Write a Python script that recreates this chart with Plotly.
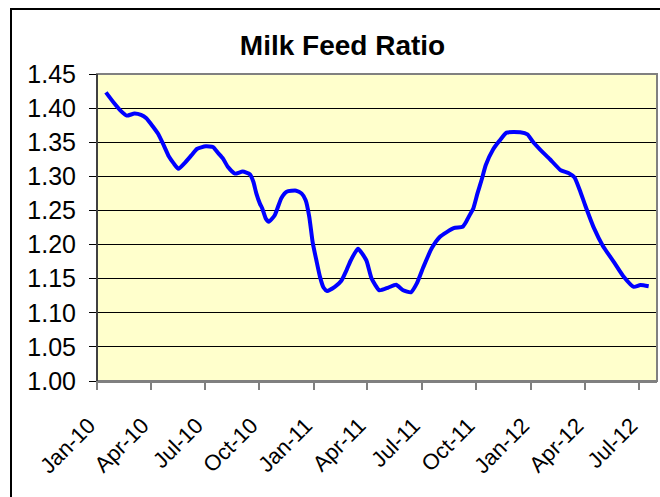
import plotly.graph_objects as go

dates = ["2010-01-16","2010-01-30","2010-02-10","2010-02-20","2010-03-05","2010-03-16","2010-03-25",
         "2010-04-05","2010-04-14","2010-04-23","2010-05-02","2010-05-10","2010-05-18","2010-05-28",
         "2010-06-09","2010-06-18","2010-07-03","2010-07-15","2010-07-24","2010-08-01","2010-08-09",
         "2010-08-21","2010-09-03","2010-09-15","2010-09-21","2010-09-26","2010-10-02","2010-10-06",
         "2010-10-12","2010-10-17","2010-10-27","2010-11-07","2010-11-16","2010-12-02","2010-12-11",
         "2010-12-18","2010-12-24","2010-12-30","2011-01-05","2011-01-11","2011-01-17","2011-01-23",
         "2011-02-05","2011-02-16","2011-02-25","2011-03-04","2011-03-16","2011-03-30","2011-04-08",
         "2011-04-21","2011-05-06","2011-05-19","2011-05-31","2011-06-13","2011-06-23","2011-07-04",
         "2011-07-18","2011-08-01","2011-08-24","2011-09-08","2011-09-14","2011-09-21","2011-09-26",
         "2011-10-03","2011-10-10","2011-10-17","2011-10-29","2011-11-09","2011-11-21","2011-12-14",
         "2011-12-26","2012-01-04","2012-01-16","2012-02-02","2012-02-20","2012-03-04","2012-03-14",
         "2012-03-23","2012-04-01","2012-04-16","2012-05-01","2012-05-19","2012-06-04","2012-06-22",
         "2012-07-03","2012-07-17"]
ratio = [1.423,1.407,1.396,1.389,1.392,1.390,1.385,
         1.373,1.362,1.346,1.329,1.319,1.311,1.319,
         1.331,1.340,1.344,1.343,1.334,1.326,1.314,
         1.304,1.307,1.303,1.292,1.275,1.260,1.253,
         1.238,1.2335,1.243,1.268,1.2775,1.279,1.275,
         1.265,1.241,1.202,1.177,1.153,1.137,1.132,
         1.138,1.147,1.163,1.177,1.194,1.177,1.150,
         1.133,1.137,1.141,1.133,1.130,1.143,1.167,
         1.1945,1.2115,1.224,1.226,1.2335,1.245,1.253,
         1.275,1.295,1.3166,1.339,1.352,1.364,1.3645,
         1.3616,1.351,1.3396,1.325,1.309,1.305,1.2986,
         1.280,1.258,1.224,1.198,1.175,1.154,1.138,
         1.1407,1.139]

tick_dates = ["2010-01-01","2010-04-01","2010-07-01","2010-10-01","2011-01-01","2011-04-01",
              "2011-07-01","2011-10-01","2012-01-01","2012-04-01","2012-07-01"]
tick_labels = ["Jan-10","Apr-10","Jul-10","Oct-10","Jan-11","Apr-11","Jul-11","Oct-11",
               "Jan-12","Apr-12","Jul-12"]
y_ticks = [1.00,1.05,1.10,1.15,1.20,1.25,1.30,1.35,1.40,1.45]
title_text = "Milk Feed Ratio"

FONT = "Arial, Liberation Sans, sans-serif"

fig = go.Figure()
fig.add_trace(go.Scatter(x=dates, y=ratio, mode="lines",
                         line=dict(color="#0000FF", width=4, shape="spline", smoothing=0.5),
                         showlegend=False, hoverinfo="skip"))

fig.update_layout(
    width=660, height=497,
    margin=dict(l=97, r=3, t=74, b=116),
    paper_bgcolor="white", plot_bgcolor="#FFFFCC",
    title=dict(text="<b>" + title_text + "</b>", x=342.5/660, xanchor="center",
               y=1 - 45/497, yanchor="middle",
               font=dict(family=FONT, size=28, color="black")),
    xaxis=dict(type="date", range=["2010-01-01", "2012-07-31"],
               tickvals=tick_dates, ticktext=tick_labels, tickangle=-45,
               ticks="outside", ticklen=7, tickcolor="#808080", tickwidth=2,
               ticklabelstandoff=14, ticklabelshift=-8,
               showgrid=False, showline=True, linecolor="#808080", linewidth=2,
               tickfont=dict(family=FONT, size=22, color="black"), zeroline=False),
    yaxis=dict(range=[1.0, 1.45], tickvals=y_ticks, tickformat=".2f",
               ticks="outside", ticklen=7, tickcolor="black", tickwidth=1,
               showgrid=True, gridcolor="black", gridwidth=1,
               showline=True, linecolor="black", linewidth=1, mirror=False,
               ticklabelstandoff=8,
               tickfont=dict(family=FONT, size=25, color="black"), zeroline=False),
    shapes=[
        dict(type="rect", xref="paper", yref="paper", x0=0, x1=1, y0=0, y1=1,
             line=dict(color="#808080", width=2), fillcolor="rgba(0,0,0,0)", layer="above"),
        dict(type="line", xref="paper", yref="paper", x0=0, x1=0, y0=0, y1=1,
             line=dict(color="black", width=1), layer="above"),
        dict(type="rect", xref="paper", yref="paper",
             x0=(11-97)/560, x1=(680-97)/560, y0=(381-520)/307, y1=(381-9)/307,
             line=dict(color="black", width=2), fillcolor="rgba(0,0,0,0)", layer="above"),
    ],
)

fig.write_html("out.html")
